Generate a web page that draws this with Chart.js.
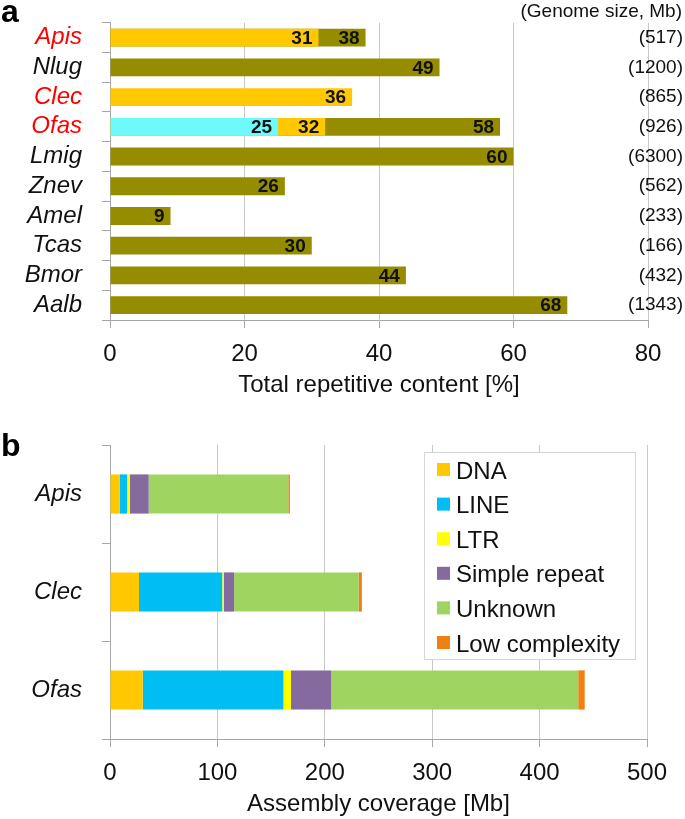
<!DOCTYPE html>
<html>
<head>
<meta charset="utf-8">
<script src="https://cdn.jsdelivr.net/npm/chart.js@4.4.1/dist/chart.umd.min.js"></script>
<style>
  html, body { margin: 0; padding: 0; background: #fff; }
  #wrap { position: relative; width: 685px; height: 819px; background: #fff; overflow: hidden; }
  .panel { position: absolute; left: 0; width: 685px; }
  .letter { position: absolute; font-family: 'Liberation Sans', Arial, sans-serif; font-weight: bold; font-size: 32px; line-height: 32px; color: #000; }
</style>
</head>
<body>
<div id="wrap">
  <div class="panel" style="top:0;height:400px;"><canvas id="chartA" width="685" height="400"></canvas></div>
  <div class="panel" style="top:400px;height:419px;"><canvas id="chartB" width="685" height="419"></canvas></div>
  <div class="letter" style="left:1px;top:-5px;">a</div>
  <div class="letter" style="left:1px;top:429px;">b</div>
</div>
<script>
// ---------- Panel a data ----------
const speciesA = ['Apis', 'Nlug', 'Clec', 'Ofas', 'Lmig', 'Znev', 'Amel', 'Tcas', 'Bmor', 'Aalb'];
const highlighted = ['Apis', 'Clec', 'Ofas'];
const genomeSizes = ['(517)', '(1200)', '(865)', '(926)', '(6300)', '(562)', '(233)', '(166)', '(432)', '(1343)'];
const totalRepeat = [38, 49, null, 58, 60, 26, 9, 30, 44, 68];
const repeatYellow = [31, null, 36, 32, null, null, null, null, null, null];
const repeatCyan = [null, null, null, 25, null, null, null, null, null, null];

// ---------- Panel b data ----------
const speciesB = ['Apis', 'Clec', 'Ofas'];
const dnaMb = [9, 27, 30.5];
const lineMb = [7, 77.5, 131];
const ltrMb = [2.5, 1.5, 7];
const simpleMb = [17.5, 9.5, 37.5];
const unknownMb = [130, 116, 230];
const lowComplexMb = [1.5, 3, 6];

const FONT = "'Liberation Sans', Arial, sans-serif";
Chart.defaults.font.family = FONT;
Chart.defaults.color = '#111';

const GRID = '#c8c8c8';
const AXIS = '#a6a6a6';

function noVPad(s) { s.paddingTop = 0; s.paddingBottom = 0; }

const valueLabels = {
  id: 'valueLabels',
  afterDatasetsDraw(chart) {
    const ctx = chart.ctx;
    ctx.save();
    ctx.font = 'bold 19px ' + FONT;
    ctx.fillStyle = '#111';
    ctx.textAlign = 'right';
    ctx.textBaseline = 'middle';
    chart.data.datasets.forEach((ds, i) => {
      const meta = chart.getDatasetMeta(i);
      meta.data.forEach((el, j) => {
        const v = ds.data[j];
        if (v === null || v === undefined) return;
        ctx.fillText(String(v), el.x - 6, el.y + 1);
      });
    });
    ctx.restore();
  }
};

new Chart(document.getElementById('chartA'), {
  type: 'bar',
  data: {
    labels: speciesA,
    datasets: [
      { label: 'Cyan estimate', data: repeatCyan, backgroundColor: '#6efafa', grouped: false, barPercentage: 0.6, categoryPercentage: 1 },
      { label: 'Yellow estimate', data: repeatYellow, backgroundColor: '#ffc800', grouped: false, barPercentage: 0.6, categoryPercentage: 1 },
      { label: 'Total repetitive content', data: totalRepeat, backgroundColor: '#968c00', grouped: false, barPercentage: 0.6, categoryPercentage: 1 }
    ]
  },
  options: {
    indexAxis: 'y',
    responsive: false,
    animation: false,
    layout: { padding: { left: 0, right: 3, top: 0, bottom: 0 } },
    plugins: {
      legend: { display: false },
      tooltip: { enabled: false },
      title: {
        display: true,
        text: '(Genome size, Mb)',
        align: 'end',
        color: '#111',
        font: { size: 19, weight: 'normal', family: FONT },
        padding: 0
      }
    },
    scales: {
      x: {
        type: 'linear',
        min: 0, max: 80,
        ticks: { stepSize: 20, font: { size: 24 }, padding: 12, color: '#111', maxRotation: 0 },
        grid: { color: GRID, tickLength: 8, tickColor: AXIS },
        border: { color: AXIS },
        title: { display: true, text: 'Total repetitive content [%]', font: { size: 24 }, color: '#111', padding: { top: 2, bottom: 0 } },
        afterFit: (s) => { s.height = 80; }
      },
      y: {
        type: 'category',
        position: 'left',
        offset: true,
        grid: { drawOnChartArea: false, offset: true, tickLength: 8, color: AXIS },
        border: { color: AXIS },
        ticks: {
          autoSkip: false,
          font: { size: 24, style: 'italic' },
          padding: 20,
          color: (c) => highlighted.includes(speciesA[c.index]) ? '#ff0000' : '#111'
        },
        afterFit: (s) => { s.width = 110; noVPad(s); }
      },
      y2: {
        type: 'category',
        position: 'right',
        labels: genomeSizes,
        offset: true,
        grid: { display: false },
        border: { display: false },
        ticks: { autoSkip: false, mirror: true, font: { size: 19 }, crossAlign: 'near', color: '#111', padding: 35 },
        afterFit: (s) => { s.width = 34; noVPad(s); }
      }
    }
  },
  plugins: [valueLabels]
});

const boxLegend = {
  id: 'boxLegend',
  afterDatasetsDraw(chart) {
    const ctx = chart.ctx;
    const area = chart.chartArea;
    const w = 212, h = 208;
    const left = area.right - 11 - w;
    const top = area.top + 7;
    ctx.save();
    ctx.fillStyle = '#fff';
    ctx.fillRect(left, top, w, h);
    ctx.strokeStyle = '#d6d6d6';
    ctx.lineWidth = 1;
    ctx.strokeRect(left + 0.5, top + 0.5, w - 1, h - 1);
    ctx.font = '24px ' + FONT;
    ctx.textAlign = 'left';
    ctx.textBaseline = 'middle';
    chart.data.datasets.forEach((ds, i) => {
      const cy = top + 19 + i * 34.6;
      ctx.fillStyle = ds.backgroundColor;
      ctx.fillRect(left + 13, cy - 8, 13, 13);
      ctx.fillStyle = '#111';
      ctx.fillText(ds.label, left + 32, cy + 1);
    });
    ctx.restore();
  }
};

const stackedCommon = { barPercentage: 0.4, categoryPercentage: 1 };
new Chart(document.getElementById('chartB'), {
  type: 'bar',
  data: {
    labels: speciesB,
    datasets: [
      Object.assign({ label: 'DNA', data: dnaMb, backgroundColor: '#ffc800' }, stackedCommon),
      Object.assign({ label: 'LINE', data: lineMb, backgroundColor: '#00bef2' }, stackedCommon),
      Object.assign({ label: 'LTR', data: ltrMb, backgroundColor: '#ffff00' }, stackedCommon),
      Object.assign({ label: 'Simple repeat', data: simpleMb, backgroundColor: '#846a9e' }, stackedCommon),
      Object.assign({ label: 'Unknown', data: unknownMb, backgroundColor: '#a0d460' }, stackedCommon),
      Object.assign({ label: 'Low complexity', data: lowComplexMb, backgroundColor: '#f08010' }, stackedCommon)
    ]
  },
  options: {
    indexAxis: 'y',
    responsive: false,
    animation: false,
    layout: { padding: { left: 0, right: 38, top: 45, bottom: 0 } },
    plugins: {
      legend: { display: false },
      tooltip: { enabled: false }
    },
    scales: {
      x: {
        type: 'linear',
        stacked: true,
        min: 0, max: 500,
        ticks: { stepSize: 100, font: { size: 24 }, padding: 12, color: '#111', maxRotation: 0 },
        grid: { color: GRID, tickLength: 8, tickColor: AXIS },
        border: { color: AXIS },
        title: { display: true, text: 'Assembly coverage [Mb]', font: { size: 24 }, color: '#111', padding: { top: 2, bottom: 0 } },
        afterFit: (s) => { s.height = 80; }
      },
      y: {
        type: 'category',
        stacked: true,
        offset: true,
        grid: { drawOnChartArea: false, offset: true, tickLength: 8, color: AXIS },
        border: { color: AXIS },
        ticks: { autoSkip: false, font: { size: 24, style: 'italic' }, padding: 20, color: '#111' },
        afterFit: (s) => { s.width = 110; noVPad(s); }
      }
    }
  },
  plugins: [boxLegend]
});
</script>
</body>
</html>
